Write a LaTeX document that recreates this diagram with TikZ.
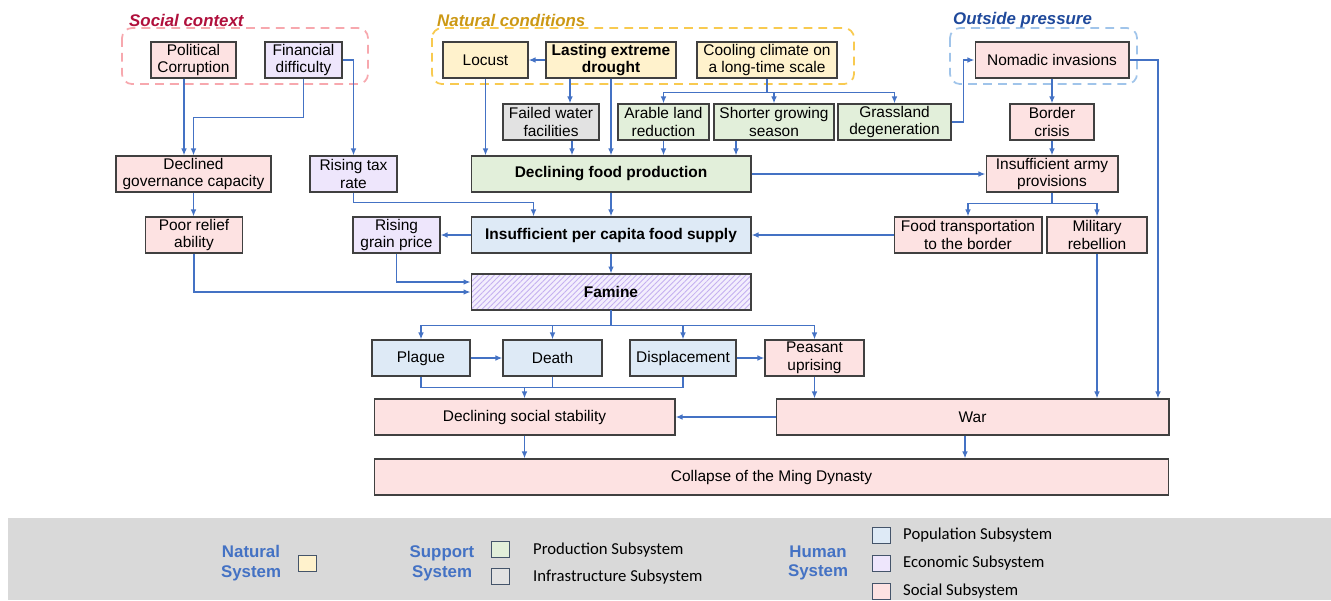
\documentclass[tikz,border=0pt]{standalone}
\usepackage{fontspec}
\setmainfont{Liberation Sans}
\newfontfamily\legfont{Carlito}
\usetikzlibrary{arrows.meta,patterns.meta}
\definecolor{arrowblue}{RGB}{68,114,196}
\definecolor{boxgray}{RGB}{64,64,64}
\definecolor{social}{RGB}{253,226,226}
\definecolor{economic}{RGB}{238,230,252}
\definecolor{natural}{RGB}{255,242,204}
\definecolor{production}{RGB}{226,239,218}
\definecolor{infra}{RGB}{226,226,226}
\definecolor{population}{RGB}{222,234,246}
\definecolor{famfill}{RGB}{243,238,253}
\definecolor{famline}{RGB}{196,176,240}
\definecolor{socialdash}{RGB}{247,168,174}
\definecolor{naturaldash}{RGB}{248,202,80}
\definecolor{outsidedash}{RGB}{160,196,234}
\definecolor{socialtitle}{RGB}{176,16,60}
\definecolor{naturaltitle}{RGB}{204,152,20}
\definecolor{outsidetitle}{RGB}{31,73,155}
\definecolor{legendbg}{RGB}{217,217,217}
\definecolor{legendline}{RGB}{68,84,106}
\begin{document}
\begin{tikzpicture}[x=0.02cm,y=-0.02cm,
    box/.style={draw=boxgray,line width=0.6pt,minimum height=0.72cm,inner sep=1pt,align=center,
        font=\fontsize{8.8}{10.2}\selectfont},
    bbox/.style={box,font=\fontsize{8.8}{10.2}\selectfont\bfseries},
    arr/.style={draw=arrowblue,line width=0.8pt,-{Latex[length=4pt,width=3.2pt]}},
    ln/.style={draw=arrowblue,line width=0.8pt},
    group/.style={dashed,dash pattern=on 5pt off 3.5pt,line width=1pt,rounded corners=0.2cm},
    grouptitle/.style={anchor=west,font=\fontsize{9.6}{11}\selectfont\bfseries\itshape},
    legsys/.style={align=center,text=arrowblue,font=\fontsize{9.6}{11.3}\selectfont\bfseries},
    legbox/.style={draw=legendline,line width=0.5pt,minimum width=0.36cm,minimum height=0.32cm,inner sep=0pt},
    legtext/.style={anchor=west,font=\legfont\fontsize{9.5}{11}\selectfont}]
    \useasboundingbox (0,0) rectangle (1331,600);
    \draw[group,socialdash](122,28) rectangle (368,84);
    \draw[group,naturaldash](432,28) rectangle (854,84);
    \draw[group,outsidedash](950,28) rectangle (1137,84);
    \node[grouptitle,text=socialtitle] (tsocial) at (123,20) {Social context};
    \node[grouptitle,text=naturaltitle] (tnatural) at (431,20) {Natural conditions};
    \node[grouptitle,text=outsidetitle] (toutside) at (947,20) {Outside pressure};
    \node[box,fill=social,minimum width=1.7cm] (polit) at (193.5,60) {Political\\Corruption};
    \node[box,fill=economic,minimum width=1.54cm] (fin) at (303.5,60) {Financial\\difficulty};
    \node[box,fill=natural,minimum width=1.7cm] (locust) at (485.5,60) {Locust};
    \node[bbox,fill=natural,minimum width=2.6cm] (drought) at (611,60) {Lasting extreme\\drought};
    \node[box,fill=natural,minimum width=2.8cm] (cool) at (767,60) {Cooling climate on\\a long-time scale};
    \node[box,fill=social,minimum width=3.08cm] (nomad) at (1052,60) {Nomadic invasions};
    \node[box,fill=infra,minimum width=1.92cm] (water) at (551,122) {Failed water\\facilities};
    \node[box,fill=production,minimum width=1.82cm] (arable) at (663.5,122) {Arable land\\reduction};
    \node[box,fill=production,minimum width=2.4cm] (shorter) at (774,122) {Shorter growing\\season};
    \node[box,fill=production,minimum width=2.26cm] (grass) at (894.5,122) {Grassland\\degeneration};
    \node[box,fill=social,minimum width=1.68cm] (border) at (1052,122) {Border\\crisis};
    \node[box,fill=social,minimum width=3.1cm] (decl) at (193.5,174) {Declined\\governance capacity};
    \node[box,fill=economic,minimum width=1.74cm] (tax) at (353.5,174) {Rising tax\\rate};
    \node[bbox,fill=production,minimum width=5.6cm] (food) at (611,174) {Declining food production};
    \node[box,fill=social,minimum width=2.64cm] (army) at (1052,174) {Insufficient army\\provisions};
    \node[box,fill=social,minimum width=1.94cm] (relief) at (194,235) {Poor relief\\ability};
    \node[box,fill=economic,minimum width=1.74cm] (grain) at (396.5,235) {Rising\\grain price};
    \node[bbox,fill=population,minimum width=5.6cm] (supply) at (611,235) {Insufficient per capita food supply};
    \node[box,fill=social,minimum width=2.96cm] (trans) at (968,235) {Food transportation\\to the border};
    \node[box,fill=social,minimum width=2cm] (rebel) at (1097,235) {Military\\rebellion};
    \node[bbox,preaction={fill=famfill},pattern={Lines[angle=45,distance=2.2pt,line width=0.5pt]},
        pattern color=famline,minimum width=5.6cm] (famine) at (611,292) {Famine};
    \node[box,fill=population,minimum width=1.96cm] (plague) at (421,358) {Plague};
    \node[box,fill=population,minimum width=1.98cm] (death) at (552.5,358) {Death};
    \node[box,fill=population,minimum width=2.12cm] (displ) at (683,358) {Displacement};
    \node[box,fill=social,minimum width=1.98cm] (peasant) at (814.5,358) {Peasant\\uprising};
    \node[box,fill=social,minimum width=6.02cm] (stab) at (524.5,417) {Declining social stability};
    \node[box,fill=social,minimum width=7.86cm] (war) at (972.5,417) {War};
    \node[box,fill=social,minimum width=15.9cm] (coll) at (771.5,477) {Collapse of the Ming Dynasty};
    \draw[arr]([xshift=-0.19cm]polit.south) -- ([xshift=-0.19cm]polit.south |- decl.north);
    \draw[arr](fin.south) -- ++(0,39) -| (decl.north);
    \draw[arr](fin.east) -| (tax.north);
    \draw[arr](decl.south) -- (decl.south |- relief.north);
    \draw[arr](tax.south) -- ++(0,10) -| ([xshift=-1.55cm]supply.north);
    \draw[arr](relief.south) |- (famine.west);
    \draw[arr](grain.south) |- ([yshift=0.2cm]famine.west);
    \draw[arr](supply.west) -- (grain.east);
    \draw[arr](locust.south) -- (locust.south |- food.north);
    \draw[arr](drought.west) -- (locust.east);
    \draw[arr]([xshift=-0.82cm]drought.south) -- ([xshift=-0.82cm]drought.south |- water.north);
    \draw[arr,line width=1.2pt](drought.south) -- (food.north);
    \draw[arr]([xshift=0.42cm]water.south) -- ([xshift=0.42cm]water.south |- food.north);
    \draw[ln](cool.south) -- ++(0,14) coordinate (cj);
    \draw[arr](cj) -| (arable.north);
    \draw[arr](cj) -| (shorter.north);
    \draw[arr](cj) -| (grass.north);
    \draw[arr](arable.south) -- (arable.south |- food.north);
    \draw[arr]([xshift=-0.76cm]shorter.south) -- ([xshift=-0.76cm]shorter.south |- food.north);
    \draw[arr](grass.east) -- ++(12,0) |- (nomad.west);
    \draw[arr](nomad.south) -- (border.north);
    \draw[arr](border.south) -- (army.north);
    \draw[arr](food.east) -- (army.west);
    \draw[ln](army.south) -- ++(0,11) coordinate (aj);
    \draw[arr](aj) -| (trans.north);
    \draw[arr](aj) -| (rebel.north);
    \draw[arr](trans.west) -- (supply.east);
    \draw[arr](food.south) -- (supply.north);
    \draw[arr](supply.south) -- (famine.north);
    \draw[ln](famine.south) -- ++(0,15) coordinate (fj);
    \draw[arr](fj) -| (plague.north);
    \draw[arr](fj) -| (death.north);
    \draw[arr](fj) -| (displ.north);
    \draw[arr](fj) -| (peasant.north);
    \draw[arr](plague.east) -- (death.west);
    \draw[arr](displ.east) -- (peasant.west);
    \draw[ln](plague.south) -- ++(0,11) coordinate (pj) -| (displ.south);
    \draw[ln](death.south) -- (death.south |- pj);
    \draw[arr](pj -| stab.north) -- (stab.north);
    \draw[arr](peasant.south) -- (peasant.south |- war.north);
    \draw[arr](war.west) -- (stab.east);
    \draw[arr](rebel.south) -- (rebel.south |- war.north);
    \draw[arr](nomad.east) -| ([xshift=3.71cm]war.north);
    \draw[arr](stab.south) -- (stab.south |- coll.north);
    \draw[arr]([xshift=-0.15cm]war.south) -- ([xshift=-0.15cm]war.south |- coll.north);
    \fill[legendbg](8,518) rectangle (1331,600);
    \node[legsys] (lnat) at (251,563) {Natural\\System};
    \node[legbox,fill=natural] (snat) at (307,563) {};
    \node[legsys] (lsup) at (442,563) {Support\\System};
    \node[legbox,fill=production] (sprod) at (500,549) {};
    \node[legbox,fill=infra] (sinfra) at (500,576) {};
    \node[legtext] (tprod) at (527,550) {Production Subsystem};
    \node[legtext] (tinfra) at (527,577) {Infrastructure Subsystem};
    \node[legsys] (lhum) at (818,563) {Human\\System};
    \node[legbox,fill=population] (spop) at (881,535) {};
    \node[legbox,fill=economic] (seco) at (881,563) {};
    \node[legbox,fill=social] (ssoc) at (881,591) {};
    \node[legtext] (tpop) at (897,535) {Population Subsystem};
    \node[legtext] (teco) at (897,563) {Economic Subsystem};
    \node[legtext] (tsoc) at (897,591) {Social Subsystem};
\end{tikzpicture}
\end{document}
